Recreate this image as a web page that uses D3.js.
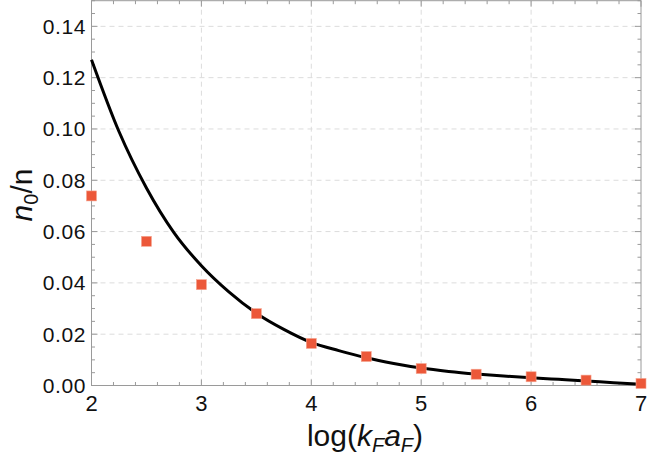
<!DOCTYPE html>
<html>
<head>
<meta charset="utf-8">
<script src="https://cdn.jsdelivr.net/npm/d3@7"></script>
<style>
  body { margin: 0; background: #fff; }
  svg { display: block; font-family: "Liberation Sans", Arial, sans-serif; }
</style>
</head>
<body>
<svg id="chart" width="648" height="457"></svg>
<script>
// data points (orange squares)
const pointX = [2, 2.5, 3, 3.5, 4, 4.5, 5, 5.5, 6, 6.5, 7];
const pointY = [0.0739, 0.0562, 0.0393, 0.0280, 0.0164, 0.0113, 0.0066, 0.0044, 0.0034, 0.0021, 0.0008];

// fitted curve
const curveX = [2, 2.25, 2.5, 2.75, 3, 3.25, 3.5, 3.75, 4, 4.25, 4.5, 4.75, 5, 5.25, 5.5, 5.75, 6, 6.25, 6.5, 6.75, 7];
const curveY = [0.127, 0.099, 0.077, 0.0596, 0.0467, 0.0365, 0.0282, 0.0219, 0.0168, 0.0136, 0.0108, 0.0086, 0.0068, 0.0055, 0.0045, 0.0037, 0.0030, 0.0024, 0.0018, 0.0011, 0.0005];

const xTicks = [2, 3, 4, 5, 6, 7];
const yTicks = [0, 0.02, 0.04, 0.06, 0.08, 0.10, 0.12, 0.14];

const svg = d3.select("#chart");
const mLeft = 91.5, mRight = 641, mTop = 0.7, mBottom = 385.5;

const x = d3.scaleLinear().domain([2, 7]).range([mLeft, mRight]);
const y = d3.scaleLinear().domain([0, 0.15]).range([mBottom, mTop]);

const frameColor = "#9a9a9a";

// grid lines
const grid = svg.append("g").attr("stroke", "#dcdcdc").attr("stroke-width", 1).attr("stroke-dasharray", "5,4");
grid.selectAll(".gx").data(xTicks.slice(1, -1)).enter().append("line")
  .attr("x1", (d) => x(d)).attr("x2", (d) => x(d))
  .attr("y1", mTop).attr("y2", mBottom);
grid.selectAll(".gy").data(yTicks.slice(1)).enter().append("line")
  .attr("x1", mLeft).attr("x2", mRight)
  .attr("y1", (d) => y(d)).attr("y2", (d) => y(d));

// minor ticks
const xMinor = d3.range(2, 7.001, 0.2).filter((v) => Math.abs(v - Math.round(v)) > 0.01);
const yMinor = d3.range(0, 0.1501, 0.005).filter((v) => Math.abs(v / 0.02 - Math.round(v / 0.02)) > 0.01);

const ticks = svg.append("g").attr("stroke", frameColor).attr("stroke-width", 1);
function tickLines(vals, len, horiz) {
  vals.forEach((v) => {
    if (horiz) {
      const px = x(v);
      ticks.append("line").attr("x1", px).attr("x2", px).attr("y1", mBottom).attr("y2", mBottom - len);
      ticks.append("line").attr("x1", px).attr("x2", px).attr("y1", mTop).attr("y2", mTop + len);
    } else {
      const py = y(v);
      ticks.append("line").attr("x1", mLeft).attr("x2", mLeft + len).attr("y1", py).attr("y2", py);
      ticks.append("line").attr("x1", mRight).attr("x2", mRight - len).attr("y1", py).attr("y2", py);
    }
  });
}
tickLines(xTicks, 6, true);
tickLines(xMinor, 3.5, true);
tickLines(yTicks, 6, false);
tickLines(yMinor, 3.5, false);

// frame
svg.append("rect")
  .attr("x", mLeft).attr("y", mTop)
  .attr("width", mRight - mLeft).attr("height", mBottom - mTop)
  .attr("fill", "none").attr("stroke", frameColor).attr("stroke-width", 1);

// tick labels
svg.append("g").selectAll("text").data(xTicks).enter().append("text")
  .attr("x", (d) => x(d)).attr("y", 411)
  .attr("text-anchor", "middle").attr("font-size", 22).attr("fill", "#111")
  .text((d) => d);
svg.append("g").selectAll("text").data(yTicks).enter().append("text")
  .attr("x", 86).attr("y", (d) => y(d) + 7.5)
  .attr("text-anchor", "end").attr("font-size", 21).attr("letter-spacing", 0.6).attr("fill", "#111")
  .text((d) => d3.format(".2f")(d));

// curve
const line = d3.line().x((d) => x(d[0])).y((d) => y(d[1])).curve(d3.curveMonotoneX);
svg.append("path")
  .datum(curveX.map((v, i) => [v, curveY[i]]))
  .attr("d", line)
  .attr("fill", "none").attr("stroke", "#000").attr("stroke-width", 3);

// points
const sz = 10;
svg.append("g").selectAll("rect").data(pointX.map((v, i) => [v, pointY[i]])).enter().append("rect")
  .attr("x", (d) => x(d[0]) - sz / 2).attr("y", (d) => y(d[1]) - sz / 2)
  .attr("width", sz).attr("height", sz)
  .attr("fill", "#ec5839").attr("stroke", "#f6a590").attr("stroke-width", 0.6);

// axis titles
const xt = svg.append("text").attr("x", 365).attr("y", 446).attr("text-anchor", "middle")
  .attr("font-size", 30).attr("fill", "#111");
xt.append("tspan").text("log(");
xt.append("tspan").attr("font-style", "italic").text("k");
xt.append("tspan").attr("font-style", "italic").attr("font-size", 20).attr("dy", 6).text("F");
xt.append("tspan").attr("font-style", "italic").attr("dy", -6).text("a");
xt.append("tspan").attr("font-style", "italic").attr("font-size", 20).attr("dy", 6).text("F");
xt.append("tspan").attr("dy", -6).text(")");

const yt = svg.append("text").attr("transform", "translate(32,195) rotate(-90)")
  .attr("text-anchor", "middle").attr("font-size", 30).attr("fill", "#111");
yt.append("tspan").attr("font-style", "italic").text("n");
yt.append("tspan").attr("font-size", 20).attr("dy", 6).text("0");
yt.append("tspan").attr("dy", -6).text("/n");
</script>
</body>
</html>
